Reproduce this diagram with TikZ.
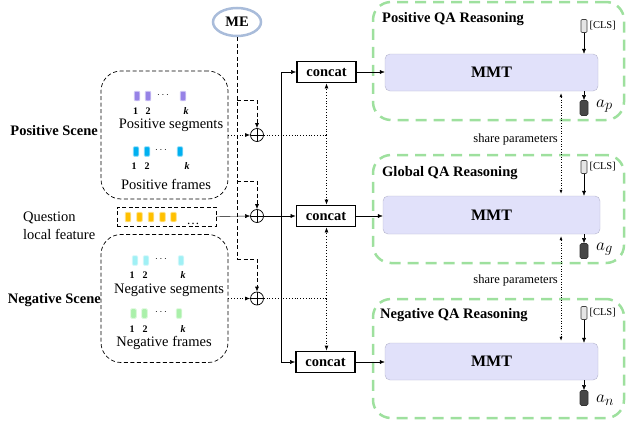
\documentclass[tikz,border=0pt]{standalone}
\usepackage{fontspec}
\setmainfont{Liberation Serif}
\usetikzlibrary{arrows.meta,shapes.geometric}
\definecolor{mecol}{HTML}{A9BCDA}
\definecolor{psegcol}{HTML}{9682E6}
\definecolor{pfrmcol}{HTML}{00B0F0}
\definecolor{nsegcol}{HTML}{A0F0F5}
\definecolor{nfrmcol}{HTML}{AAF0AA}
\definecolor{qcol}{HTML}{FFC000}
\definecolor{greenc}{HTML}{9EE09E}
\definecolor{mmtfill}{HTML}{E1E1FA}
\definecolor{mmtdraw}{HTML}{B4B4CC}
\definecolor{outcol}{HTML}{474747}
\begin{document}
\begin{tikzpicture}[x=1pt,y=-1pt,
  arr/.style={-{Latex[length=5pt,width=4pt]}},
  darr/.style={{Latex[length=4pt,width=3pt]}-{Latex[length=4pt,width=3pt]}},
  blackdash/.style={dash pattern=on 4pt off 2.5pt, line width=0.7pt},
  dots/.style={dotted, line width=0.8pt},
  txt/.style={font=\fontsize{14.5}{18}\selectfont, inner sep=0pt},
  btxt/.style={font=\bfseries\fontsize{14.5}{18}\selectfont, inner sep=0pt},
  numtxt/.style={font=\bfseries\fontsize{10}{10}\selectfont, inner sep=0pt},
  mathlbl/.style={font=\fontsize{19}{20}\selectfont, inner sep=0pt, anchor=west},
  scenebox/.style={draw, blackdash, rounded corners=20pt, minimum width=127pt, minimum height=128pt},
  concatbox/.style={draw, line width=1.8pt, minimum width=59pt, minimum height=21pt, inner sep=0pt, font=\bfseries\fontsize{14.5}{16}\selectfont},
  mmtbox/.style={draw=mmtdraw, fill=mmtfill, rounded corners=5pt, minimum width=213pt, minimum height=37pt, inner sep=0pt, font=\bfseries\fontsize{16}{18}\selectfont},
  greenbox/.style={draw=greenc, line width=2.5pt, dash pattern=on 11pt off 7pt, rounded corners=18pt, minimum width=251pt},
  plus/.style={circle, draw, line width=0.7pt, minimum size=13pt, inner sep=0pt,
    path picture={\draw[line width=0.7pt] (path picture bounding box.north) -- (path picture bounding box.south) (path picture bounding box.west) -- (path picture bounding box.east);}},
  clstok/.style={draw=black!75, fill=black!10, minimum width=6pt, minimum height=13pt, inner sep=0pt, rounded corners=1pt, line width=0.6pt},
  outtok/.style={draw=black!80, fill=outcol, minimum width=8pt, minimum height=15pt, inner sep=0pt, rounded corners=1.5pt, line width=0.6pt},
  smalltxt/.style={font=\fontsize{10.5}{12}\selectfont, inner sep=0pt},
  sharetxt/.style={font=\fontsize{12.5}{14}\selectfont, inner sep=0pt},
  ftok/.style={fill=#1, draw=#1!45!white, line width=0.9pt, rounded corners=1pt, minimum width=5.5pt, minimum height=9.5pt, inner sep=0pt}
]
\useasboundingbox (0,0) rectangle (626,423);

% ---------- green reasoning boxes ----------
\node[greenbox, minimum height=118pt] (g1) at (498.5,61) {};
\node[greenbox, minimum height=108pt] (g2) at (498.5,209) {};
\node[greenbox, minimum height=119pt] (g3) at (498.5,358.5) {};
\node[btxt, anchor=west] (g1t) at (382,19) {Positive QA Reasoning};
\node[btxt, anchor=west] (g2t) at (382,173) {Global QA Reasoning};
\node[btxt, anchor=west] (g3t) at (380,315) {Negative QA Reasoning};

% ---------- MMT boxes ----------
\node[mmtbox] (m1) at (491.5,72.5) {MMT};
\node[mmtbox, minimum width=217pt, minimum height=38pt] (m2) at (491.5,215) {MMT};
\node[mmtbox] (m3) at (491.5,361.5) {MMT};

% ---------- CLS and output tokens ----------
\node[clstok] (cls1) at (584,26) {};
\node[clstok] (cls2) at (584,167) {};
\node[clstok] (cls3) at (584,313) {};
\node[smalltxt, anchor=west] (cl1) at ([xshift=2pt]cls1.east) {[CLS]};
\node[smalltxt, anchor=west] (cl2) at ([xshift=2pt]cls2.east) {[CLS]};
\node[smalltxt, anchor=west] (cl3) at ([xshift=2pt]cls3.east) {[CLS]};
\draw[arr] (cls1.south) -- (cls1.south |- m1.north);
\draw[arr] (cls2.south) -- (cls2.south |- m2.north);
\draw[arr] (cls3.south) -- (cls3.south |- m3.north);

\node[outtok] (o1) at (584,108) {};
\node[outtok] (o2) at (584,251) {};
\node[outtok] (o3) at (584,398) {};
\draw[arr] (o1.north |- m1.south) -- (o1.north);
\draw[arr] (o2.north |- m2.south) -- (o2.north);
\draw[arr] (o3.north |- m3.south) -- (o3.north);
\node[mathlbl] (ap) at (596,106) {$a_p$};
\node[mathlbl] (ag) at (596,249) {$a_g$};
\node[mathlbl] (an) at (596,400) {$a_n$};

% ---------- share parameters ----------
\coordinate (sx) at (561,0);
\draw[dots, line width=0.6pt, darr, shorten <=2pt, shorten >=2pt] (sx |- m1.south) -- (sx |- m2.north);
\draw[dots, line width=0.6pt, darr, shorten <=2pt, shorten >=2pt] (sx |- m2.south) -- (sx |- m3.north);
\node[sharetxt, anchor=east] (sp1) at (558,139) {share parameters};
\node[sharetxt, anchor=east] (sp2) at (558,280) {share parameters};

% ---------- concat boxes ----------
\node[concatbox] (c1) at (326.5,72) {concat};
\node[concatbox] (c2) at (326,216) {concat};
\node[concatbox] (c3) at (325.5,362) {concat};
\draw[arr] (c1.east) -- (m1.west |- c1.east);
\draw[arr] (c2.east) -- (m2.west |- c2.east);
\draw[arr] (c3.east) -- (m3.west |- c3.east);

% ---------- ME ----------
\node[ellipse, draw=mecol, line width=2.5pt, minimum width=48pt, minimum height=28pt, inner sep=0pt, font=\bfseries\fontsize{14.5}{16}\selectfont] (me) at (237,22) {ME};

% ---------- plus nodes ----------
\node[plus] (p1) at (257,135) {};
\node[plus] (p2) at (257,216) {};
\node[plus] (p3) at (257,298.5) {};

\coordinate (t1) at (237,100);
\coordinate (t2) at (237,181);
\coordinate (t3) at (237,259);
\draw[blackdash] (me.south) -- (t3);
\draw[blackdash, arr] (t1) -| (p1.north);
\draw[blackdash, arr] (t2) -| (p2.north);
\draw[blackdash, arr] (t3) -| (p3.north);

% ---------- scene boxes ----------
\node[scenebox] (posbox) at (164.5,135) {};
\node[scenebox] (negbox) at (164.5,298.5) {};
\node[btxt, anchor=east] (posl) at (98,131) {Positive Scene};
\node[btxt, anchor=east] (negl) at (101,300) {Negative Scene};

% positive segments
\node[ftok=psegcol] (ps1) at (137,96) {};
\node[ftok=psegcol] (ps2) at (148,96) {};
\node[ftok=psegcol] (psk) at (183,96) {};
\node[inner sep=0pt, font=\fontsize{10}{10}\selectfont] (psd) at (163,95) {$\cdots$};
\node[numtxt] (psn1) at (135.5,111) {1};
\node[numtxt] (psn2) at (148,111) {2};
\node[numtxt] (psnk) at (186,111) {\itshape k};
\node[txt] (pst) at (171,125) {Positive segments};
% positive frames
\node[ftok=pfrmcol] (pf1) at (136,151.5) {};
\node[ftok=pfrmcol] (pf2) at (147,151.5) {};
\node[ftok=pfrmcol] (pfk) at (180,151.5) {};
\node[inner sep=0pt, font=\fontsize{10}{10}\selectfont] (pfd) at (161,150) {$\cdots$};
\node[numtxt] (pfn1) at (134,166) {1};
\node[numtxt] (pfn2) at (147,166) {2};
\node[numtxt] (pfnk) at (187,166) {\itshape k};
\node[txt] (pft) at (166,184) {Positive frames};

% negative segments
\node[ftok=nsegcol] (ns1) at (135,260.5) {};
\node[ftok=nsegcol] (ns2) at (146,260.5) {};
\node[ftok=nsegcol] (nsk) at (181,260.5) {};
\node[inner sep=0pt, font=\fontsize{10}{10}\selectfont] (nsd) at (161,259) {$\cdots$};
\node[numtxt] (nsn1) at (132,275) {1};
\node[numtxt] (nsn2) at (145,275) {2};
\node[numtxt] (nsnk) at (183,275) {\itshape k};
\node[txt] (nst) at (169,290) {Negative segments};
% negative frames
\node[ftok=nfrmcol] (nf1) at (133.5,313.5) {};
\node[ftok=nfrmcol] (nf2) at (144.5,313.5) {};
\node[ftok=nfrmcol] (nfk) at (179,313.5) {};
\node[inner sep=0pt, font=\fontsize{10}{10}\selectfont] (nfd) at (161,312) {$\cdots$};
\node[numtxt] (nfn1) at (132,329) {1};
\node[numtxt] (nfn2) at (145,329) {2};
\node[numtxt] (nfnk) at (183,329) {\itshape k};
\node[txt] (nft) at (164,343) {Negative frames};

% ---------- question feature ----------
\node[draw, blackdash, minimum width=99pt, minimum height=19pt, inner sep=0pt] (qbox) at (166.5,216.5) {};
\node[ftok=qcol] (q1) at (128,217) {};
\node[ftok=qcol] (q2) at (139.5,217) {};
\node[ftok=qcol] (q3) at (151,217) {};
\node[ftok=qcol] (q4) at (162.5,217) {};
\node[ftok=qcol] (q5) at (173.5,217) {};
\node[inner sep=0pt, anchor=base, font=\fontsize{13}{13}\selectfont] (qd) at (193,224) {\ldots};
\node[txt, anchor=west, align=left] (ql) at (23,226) {Question\\local feature};

% ---------- connections ----------
\draw[dots, arr] (posbox.east) -- (p1.west);
\draw[dots, arr] (negbox.east) -- (p3.west);
\draw[arr] (qbox.east) -- (p2.west);
\draw[arr] (p2.east) -- (c2.west);

\coordinate (d1) at (c1.south |- p1.east);
\coordinate (d3) at (c1.south |- p3.east);
\draw[dots] (p1.east) -- (d1);
\draw[dots] (p3.east) -- (d3);
\draw[dots, arr] (d1) -- (d1 |- c1.south);
\draw[dots, arr] (d1) -- (d1 |- c2.north);
\draw[dots, arr] (d3) -- (d3 |- c2.south);
\draw[dots, arr] (d3) -- (d3 |- c3.north);

\coordinate (v1) at (281,72);
\coordinate (v3) at (281,362);
\draw (v1) -- (v3);
\draw[arr] (v1) -- (c1.west);
\draw[arr] (v3) -- (c3.west);
\end{tikzpicture}
\end{document}
